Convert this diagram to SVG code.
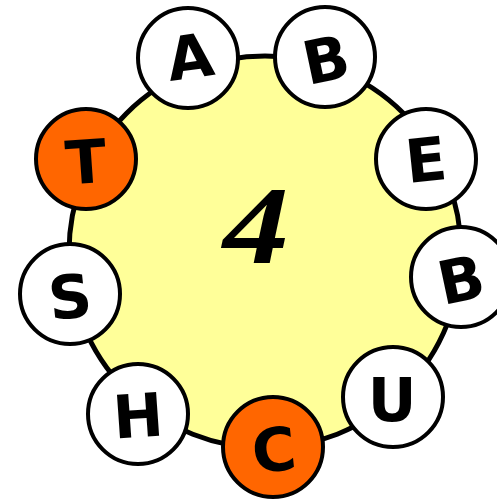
<svg xmlns="http://www.w3.org/2000/svg" width="497" height="502" viewBox="0 0 497 502">
<style>
.ring{fill:#FFFF99;stroke:#000;stroke-width:5}
.n circle{stroke:#000;stroke-width:4}
.w circle{fill:#fff}
.o circle{fill:#FF6600}
.n text{font-family:"DejaVu Sans",sans-serif;font-weight:bold;font-size:60px;text-anchor:middle;dominant-baseline:central;fill:#000}
.big{font-family:"Liberation Serif",serif;font-style:italic;font-weight:bold;font-size:110px;text-anchor:middle;fill:#000}
</style>
<g id="ring"><circle class="ring" cx="265" cy="252" r="196"/></g>
<g id="center"><text class="big" x="0" y="0" transform="translate(256 263) scale(1.2 1)">4</text></g>
<g id="connectors"></g>
<g id="nA" class="n w"><circle cx="188" cy="58" r="50"/><text x="190" y="57" transform="rotate(-8 190 57)">A</text></g>
<g id="nB1" class="n w"><circle cx="325" cy="57" r="50"/><text x="326" y="60" transform="rotate(-12 326 60)">B</text></g>
<g id="nE" class="n w"><circle cx="426" cy="159" r="50"/><text x="426" y="160" transform="rotate(-6 426 160)">E</text></g>
<g id="nB2" class="n w"><circle cx="461" cy="277" r="50"/><text x="461" y="280" transform="rotate(-12 461 280)">B</text></g>
<g id="nU" class="n w"><circle cx="393" cy="397" r="50"/><text x="392" y="400">U</text></g>
<g id="nC" class="n o"><circle cx="273" cy="447" r="50"/><text x="274" y="450" transform="rotate(-6 274 450)">C</text></g>
<g id="nH" class="n w"><circle cx="138" cy="414" r="50"/><text x="138" y="416" transform="rotate(-4 138 416)">H</text></g>
<g id="nS" class="n w"><circle cx="70" cy="294" r="50"/><text x="70" y="297" transform="rotate(-6 70 297)">S</text></g>
<g id="nT" class="n o"><circle cx="86" cy="159" r="50"/><text x="86" y="162" transform="rotate(-4 86 162)">T</text></g>
</svg>
